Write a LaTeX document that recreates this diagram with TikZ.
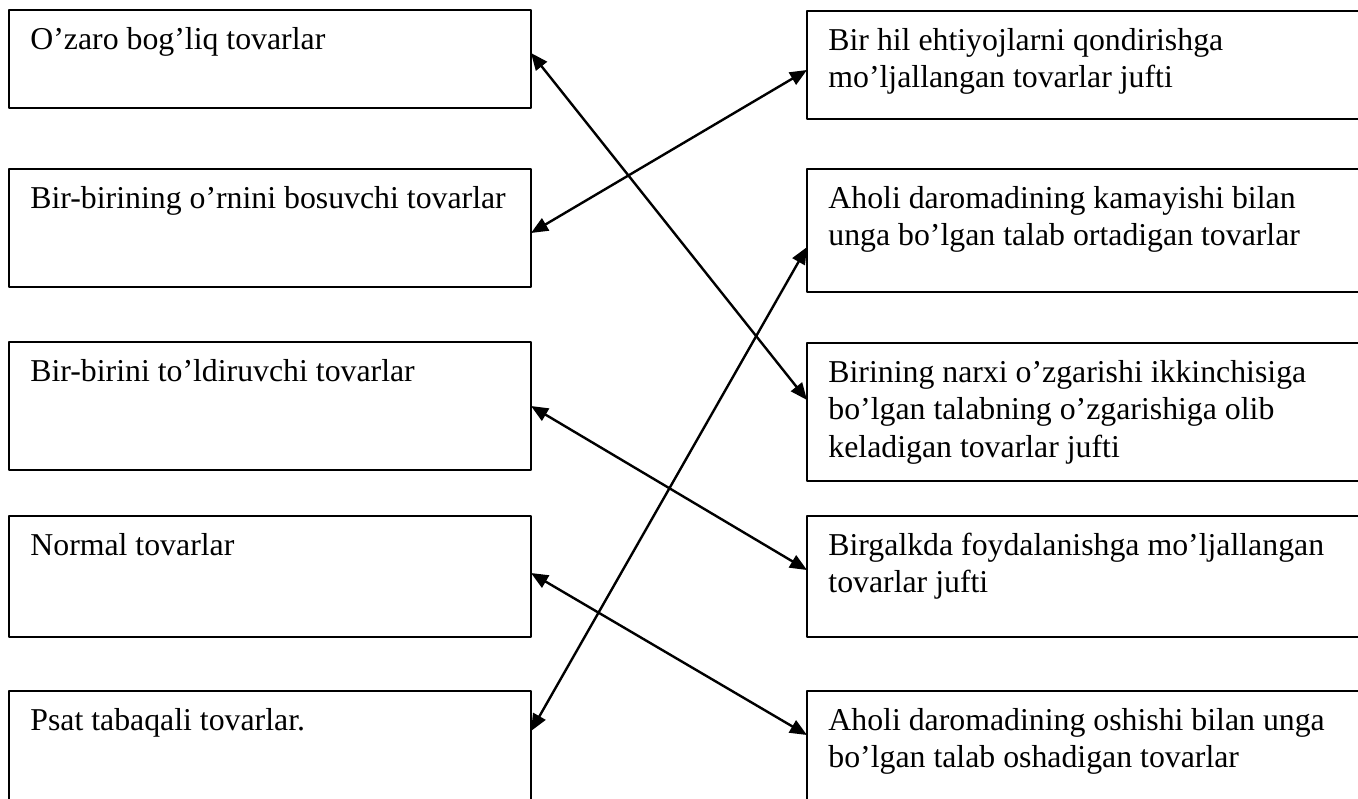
\documentclass[tikz,border=0pt]{standalone}
\usepackage{fontspec}
\setmainfont{Liberation Serif}
\usetikzlibrary{arrows.meta}
\begin{document}
\begin{tikzpicture}[x=0.5pt, y=-0.5pt, line join=round, >={Triangle[length=8.5pt,width=7pt]},
	quti/.style={draw, line width=0.9pt, inner sep=0pt, outer sep=0pt},
	matn/.style={anchor=north west, align=left, inner sep=0pt, font=\fontsize{15.9pt}{18.6pt}\selectfont},
	bog/.style={<->, line width=1.2pt}]
	\useasboundingbox (0,0) rectangle (1358,798);
	\foreach \nom/\cx/\w/\t/\b/\txt in {
		c1/270/522/10/108/{O’zaro bog’liq tovarlar},
		c2/270/522/169/287/{Bir-birining o’rnini bosuvchi tovarlar},
		c3/270/522/342/470/{Bir-birini to’ldiruvchi tovarlar},
		c4/270/522/516/637/{Normal tovarlar},
		c5/270/522/691/830/{Psat tabaqali tovarlar.},
		d1/1103.5/593/11/119/{Bir hil ehtiyojlarni qondirishga\\mo’ljallangan tovarlar jufti},
		d2/1103.5/593/169/292/{Aholi daromadining kamayishi bilan\\unga bo’lgan talab ortadigan tovarlar},
		d3/1103.5/593/343/481/{Birining narxi o’zgarishi ikkinchisiga\\bo’lgan talabning o’zgarishiga olib\\keladigan tovarlar jufti},
		d4/1103.5/593/516/637/{Birgalkda foydalanishga mo’ljallangan\\tovarlar jufti},
		d5/1103.5/593/691/830/{Aholi daromadining oshishi bilan unga\\bo’lgan talab oshadigan tovarlar}}
	{
		\node[quti, minimum width=\w*0.5pt, minimum height={(\b-\t)*0.5pt}] (\nom) at (\cx,{(\t+\b)/2}) {};
		\node[matn] (\nom m) at ([xshift=10.5pt, yshift=-6.6pt]\nom.north west) {\strut\txt};
	}
	\draw[bog] (c1.east |- 0,53) -- (d3.west |- 0,400);
	\draw[bog] (c2.east |- 0,233) -- (d1.west |- 0,70);
	\draw[bog] (c3.east |- 0,406) -- (d4.west |- 0,570);
	\draw[bog] (c4.east |- 0,573) -- (d5.west |- 0,735);
	\draw[bog] (c5.east |- 0,731) -- (d2.west |- 0,247);
\end{tikzpicture}
\end{document}
